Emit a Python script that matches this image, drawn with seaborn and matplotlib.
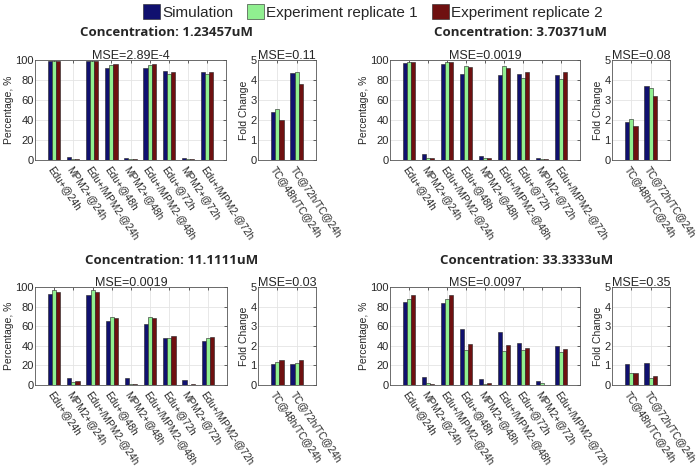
import matplotlib
matplotlib.use("Agg")
import matplotlib.pyplot as plt
import numpy as np
import pandas as pd
import seaborn as sns

# categories
pct_labels = ["Edu+@24h", "MPM2+@24h", "Edu+/MPM2-@24h", "Edu+@48h", "MPM2+@48h",
              "Edu+/MPM2-@48h", "Edu+@72h", "MPM2+@72h", "Edu+/MPM2-@72h"]
fold_labels = ["TC@48h/TC@24h", "TC@72h/TC@24h"]
series = ["Simulation", "Experiment replicate 1", "Experiment replicate 2"]
colors = ["#00007f", "#80ff80", "#7f0000"]

concentrations = ["1.23457uM", "3.70371uM", "11.1111uM", "33.3333uM"]
mse_pct = ["2.89E-4", "0.0019", "0.0019", "0.0097"]
mse_fold = ["0.11", "0.08", "0.03", "0.35"]

# 1.23457uM
c1_sim = [99, 3.5, 99, 92.5, 2.5, 92.5, 89, 2, 88.5]
c1_rep1 = [99, 1.5, 99, 95, 1.5, 95, 86.5, 1.5, 86.5]
c1_rep2 = [99.5, 1.5, 99.5, 96, 1.5, 96, 88.5, 1.5, 88.5]
c1_fold_sim = [2.4, 4.35]
c1_fold_rep1 = [2.55, 4.4]
c1_fold_rep2 = [2.0, 3.8]

# 3.70371uM
c2_sim = [97, 6, 96.5, 86, 4, 85.5, 86, 2, 85.5]
c2_rep1 = [98.5, 2.5, 98.5, 94.5, 2, 94.5, 82, 1.5, 81.5]
c2_rep2 = [98.5, 2.5, 98.5, 93, 2, 92.5, 88.5, 1, 88]
c2_fold_sim = [1.9, 3.7]
c2_fold_rep1 = [2.05, 3.6]
c2_fold_rep2 = [1.7, 3.2]

# 11.1111uM
c3_sim = [92.5, 7.5, 92, 65, 7, 62, 48, 5, 45]
c3_rep1 = [97, 3, 97, 69, 1, 69, 48, 0.5, 47.5]
c3_rep2 = [95, 4, 95, 68.5, 1, 68, 49.5, 1, 48.5]
c3_fold_sim = [1.05, 1.08]
c3_fold_rep1 = [1.17, 1.12]
c3_fold_rep2 = [1.28, 1.27]

# 33.3333uM
c4_sim = [84.5, 8, 83.5, 57.5, 6, 54.5, 42.5, 4.5, 40]
c4_rep1 = [88, 2, 88, 35.5, 1.5, 34.5, 35.5, 2.5, 34]
c4_rep2 = [91.5, 1.5, 91.5, 41.5, 2, 40.5, 37.5, 0.5, 37]
c4_fold_sim = [1.05, 1.1]
c4_fold_rep1 = [0.6, 0.37]
c4_fold_rep2 = [0.62, 0.45]

sns.set_style("white")
plt.rcParams["font.family"] = ["Liberation Sans", "DejaVu Sans"]


def long_df(labels, sim, rep1, rep2):
    rows = []
    for name, vals in zip(series, [sim, rep1, rep2]):
        for lab, v in zip(labels, vals):
            rows.append({"cat": lab, "series": name, "value": v})
    return pd.DataFrame(rows)


def style_axes(ax, labels, ymax, step, ylabel):
    # matlab style limits: one empty slot on each side
    ax.set_xlim(-1, len(labels))
    ax.set_ylim(0, ymax)
    ax.set_yticks(np.arange(0, ymax + step / 2, step))
    ax.set_xticks(range(len(labels)))
    ax.set_xticklabels(labels, rotation=-56, ha="left", rotation_mode="anchor", fontsize=7.2)
    ax.tick_params(axis="y", labelsize=8, pad=1)
    ax.tick_params(direction="in", length=2, top=True, right=True, width=0.5)
    ax.set_xlabel("")
    ax.set_ylabel(ylabel, fontsize=7.5, labelpad=1)
    ax.grid(True, color="#e4e4e4", linewidth=0.6)
    ax.set_axisbelow(True)
    for s in ax.spines.values():
        s.set_color("#555555")
        s.set_linewidth(0.6)


fig = plt.figure(figsize=(6.99, 4.70), dpi=100)

panels = [
    (c1_sim, c1_rep1, c1_rep2, c1_fold_sim, c1_fold_rep1, c1_fold_rep2),
    (c2_sim, c2_rep1, c2_rep2, c2_fold_sim, c2_fold_rep1, c2_fold_rep2),
    (c3_sim, c3_rep1, c3_rep2, c3_fold_sim, c3_fold_rep1, c3_fold_rep2),
    (c4_sim, c4_rep1, c4_rep2, c4_fold_sim, c4_fold_rep1, c4_fold_rep2),
]
# pixel boxes: (main left, main right, fold left, fold right, top, bottom, title x, title y)
boxes = [
    (35, 226, 258, 316, 60, 160, 167, 33),
    (390, 580, 612, 670, 60, 160, 520, 33),
    (35, 227, 258, 316, 287, 385, 172, 260),
    (390, 580, 612, 670, 287, 385, 527, 260),
]
W, H = 699, 470

handles = None
for i, (p, b) in enumerate(zip(panels, boxes)):
    ml, mr, fl, fr, top, bot, tx, ty = b
    ax1 = fig.add_axes([ml / W, 1 - bot / H, (mr - ml) / W, (bot - top) / H])
    ax2 = fig.add_axes([fl / W, 1 - bot / H, (fr - fl) / W, (bot - top) / H])

    d1 = long_df(pct_labels, p[0], p[1], p[2])
    sns.barplot(data=d1, x="cat", y="value", hue="series", palette=colors, width=0.64,
                edgecolor="#222222", linewidth=0.4, ax=ax1)
    if handles is None:
        handles, lbls = ax1.get_legend_handles_labels()
    ax1.get_legend().remove()
    style_axes(ax1, pct_labels, 100, 20, "Percentage, %")
    ax1.set_title("MSE=" + mse_pct[i], fontsize=9, pad=1)

    d2 = long_df(fold_labels, p[3], p[4], p[5])
    sns.barplot(data=d2, x="cat", y="value", hue="series", palette=colors, width=0.64,
                edgecolor="#222222", linewidth=0.4, ax=ax2)
    ax2.get_legend().remove()
    style_axes(ax2, fold_labels, 5, 1, "Fold Change")
    ax2.set_title("MSE=" + mse_fold[i], fontsize=9, pad=1)

    fig.text(tx / W, 1 - ty / H, "Concentration: " + concentrations[i], ha="center",
             va="center", fontsize=9.5, fontweight="bold", family=["Open Sans", "DejaVu Sans"])

fig.legend(handles, series, loc="center", bbox_to_anchor=(373 / W, 1 - 12 / H), ncol=3,
           frameon=False, fontsize=11, handlelength=1.1, handleheight=1.1,
           handletextpad=0.15, columnspacing=0.9, borderpad=0)

fig.savefig("out.png", dpi=100)
